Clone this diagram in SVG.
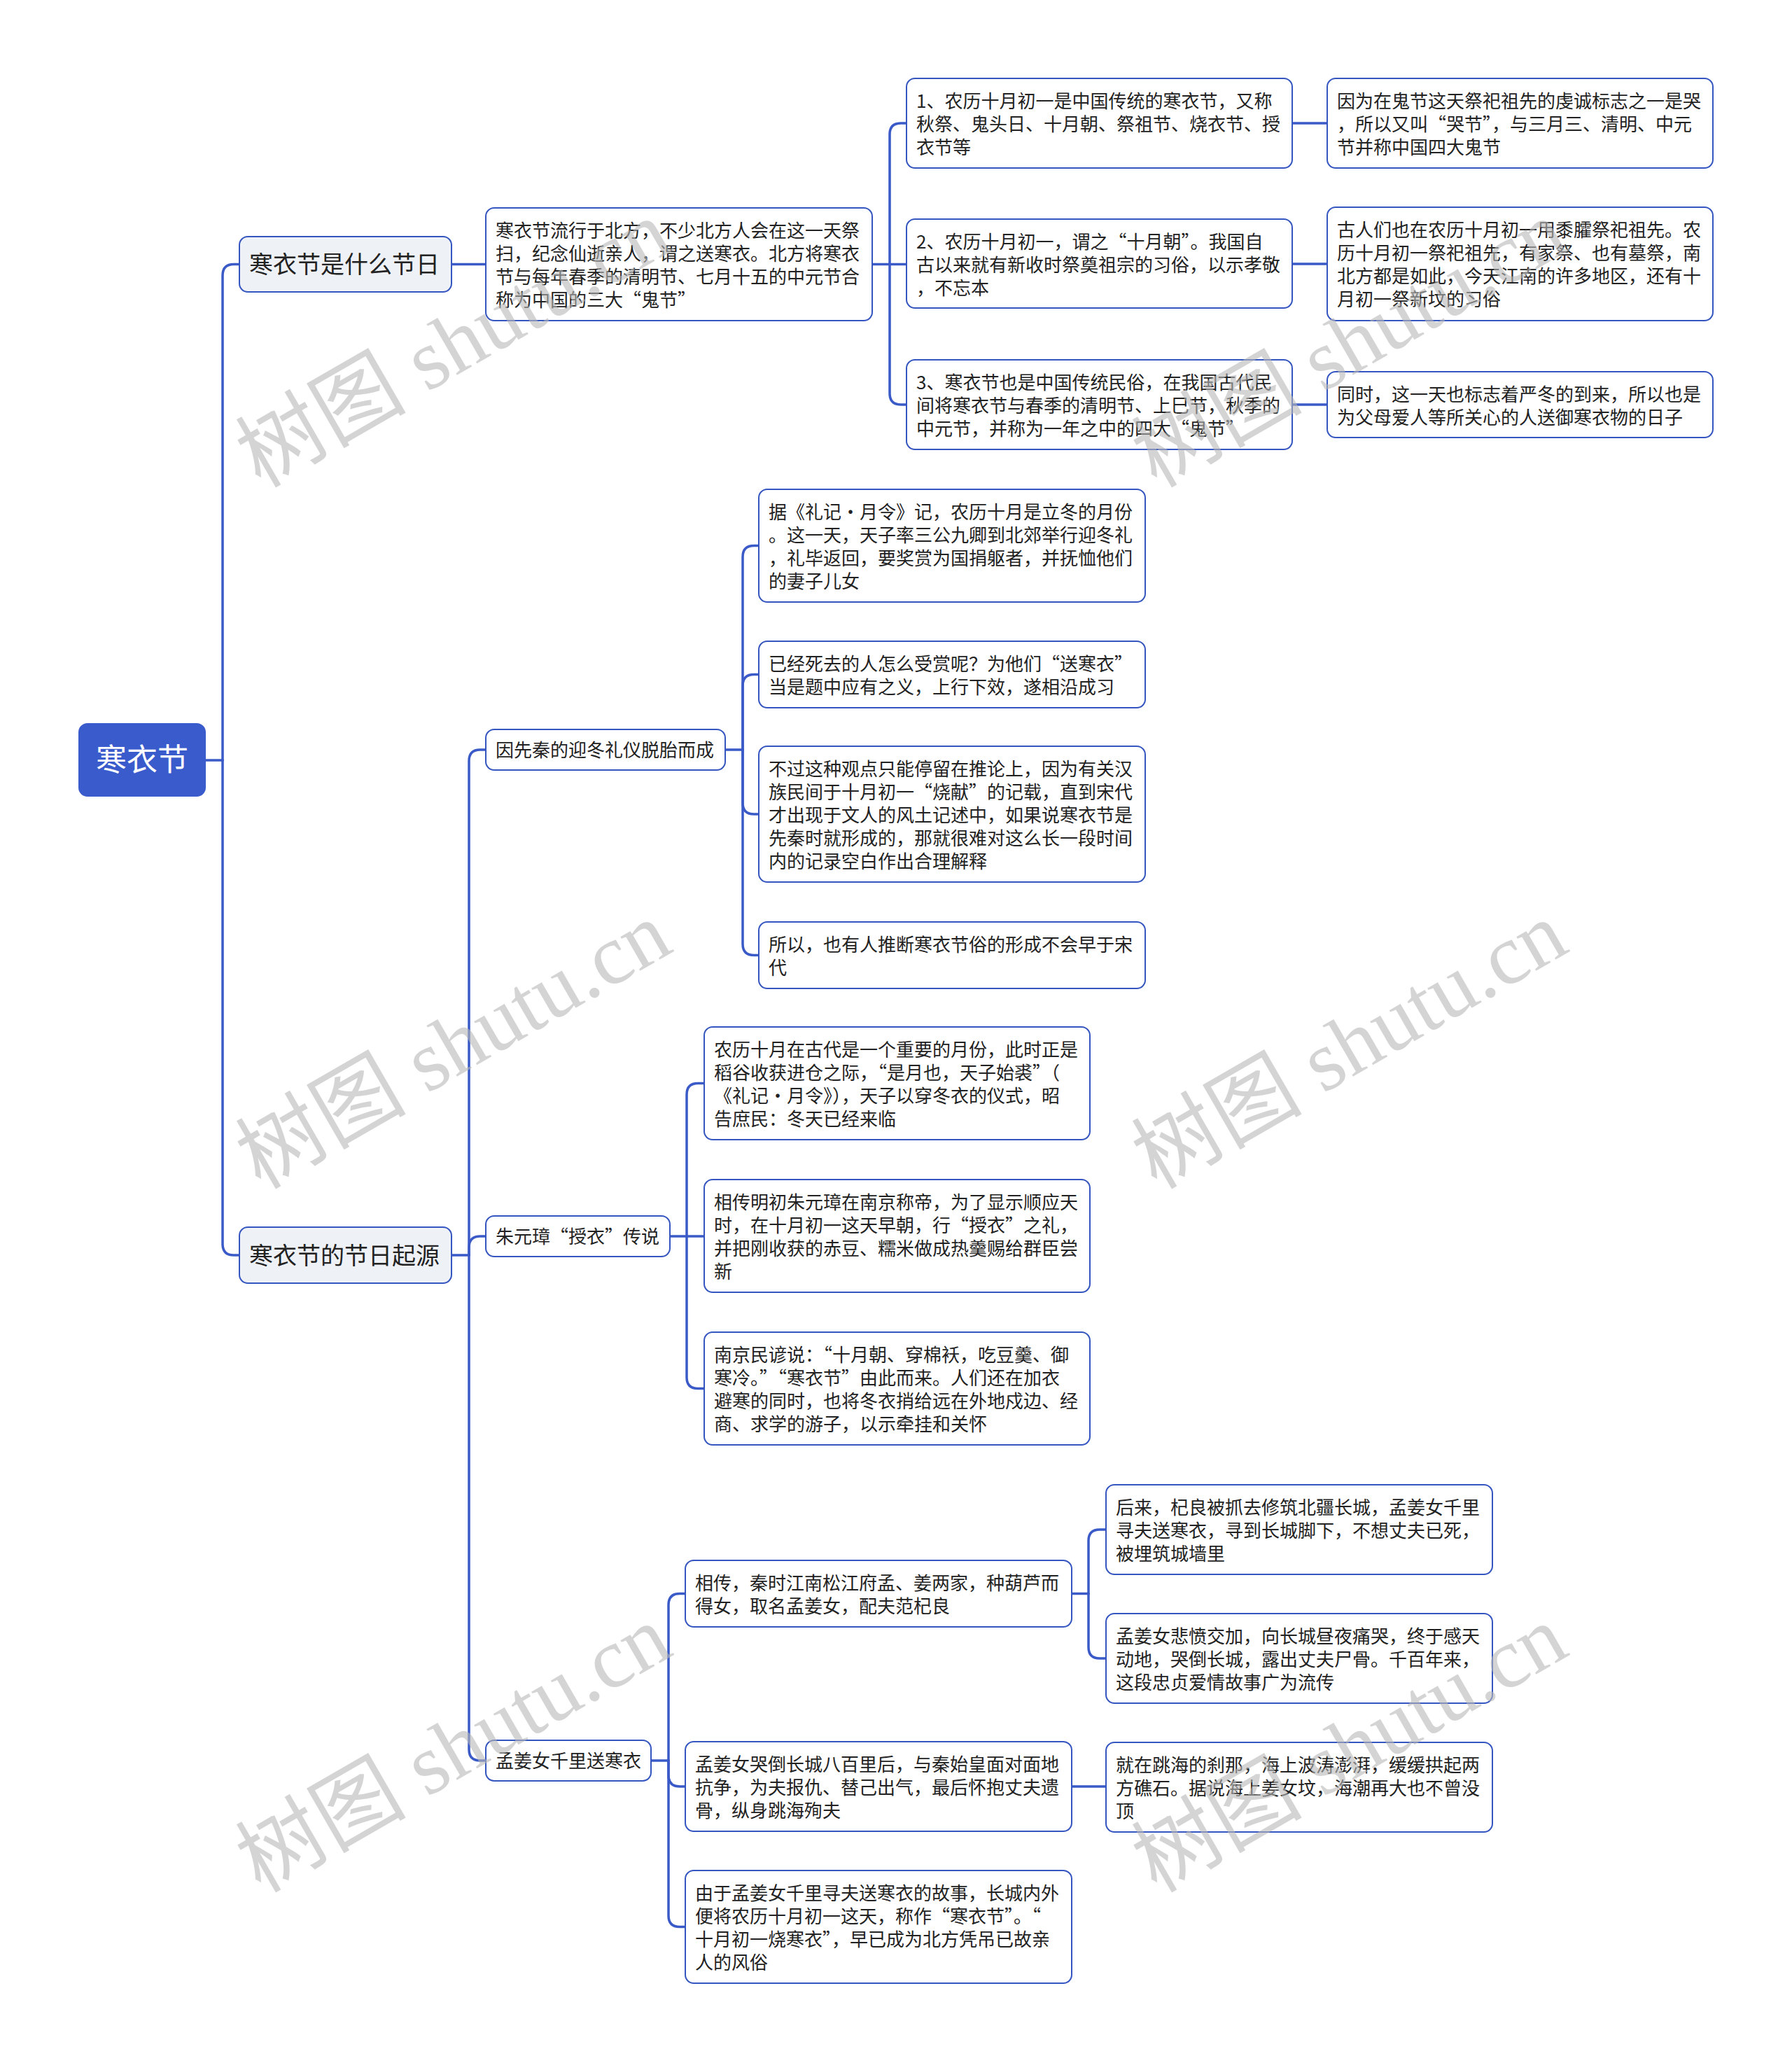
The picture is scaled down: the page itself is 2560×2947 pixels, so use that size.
<svg xmlns="http://www.w3.org/2000/svg" width="2560" height="2947" viewBox="0 0 2560 2947">
<style>
.bg{fill:#ffffff}
.nd rect{fill:#ffffff;stroke:#3556c0;stroke-width:2}
.l1 rect{fill:#eef1f6}
.rt rect{fill:#3a5bcc;stroke:#3a5bcc}
.t{font-family:"Noto Sans CJK SC","Noto Sans",sans-serif;font-size:26px;fill:#222222}
.t1{font-family:"Noto Sans CJK SC","Noto Sans",sans-serif;font-size:34px;fill:#222222}
.tr{font-family:"Noto Sans CJK SC","Noto Sans",sans-serif;font-size:44px;fill:#ffffff}
.cn path{fill:none;stroke:#3a5ac8;stroke-width:3.5;stroke-linecap:round}
.wm{font-family:"Liberation Serif","Noto Sans CJK SC",serif;font-size:122px;fill:#b8b8b8;fill-opacity:0.6}
</style>
<rect class="bg" x="0" y="0" width="2560" height="2947"/>
<g id="connectors" class="cn">
<path d="M293 1086 H318"/>
<path d="M318 1086 V393.5 Q318 377.5 334 377.5 H342"/>
<path d="M318 1086 V1777 Q318 1793 334 1793 H342"/>
<path d="M645 377.5 H694"/>
<path d="M1246 377.5 H1271"/>
<path d="M1271 377.5 V192 Q1271 176 1287 176 H1295"/>
<path d="M1271 377.5 H1295"/>
<path d="M1271 377.5 V562 Q1271 578 1287 578 H1295"/>
<path d="M1846 176 H1896"/>
<path d="M1846 377 H1896"/>
<path d="M1846 578 H1896"/>
<path d="M645 1793 H670"/>
<path d="M670 1793 V1087 Q670 1071 686 1071 H694"/>
<path d="M670 1793 V1782 Q670 1766 686 1766 H694"/>
<path d="M670 1793 V2499 Q670 2515 686 2515 H694"/>
<path d="M1036 1071 H1061"/>
<path d="M1061 1071 V795.5 Q1061 779.5 1077 779.5 H1084"/>
<path d="M1061 1071 V979.5 Q1061 963.5 1077 963.5 H1084"/>
<path d="M1061 1071 V1147 Q1061 1163 1077 1163 H1084"/>
<path d="M1061 1071 V1348.5 Q1061 1364.5 1077 1364.5 H1084"/>
<path d="M957 1766 H981"/>
<path d="M981 1766 V1563.5 Q981 1547.5 997 1547.5 H1006"/>
<path d="M981 1766 H1006"/>
<path d="M981 1766 V1967.5 Q981 1983.5 997 1983.5 H1006"/>
<path d="M930 2515 H955"/>
<path d="M955 2515 V2292.5 Q955 2276.5 971 2276.5 H979"/>
<path d="M955 2515 V2536 Q955 2552 971 2552 H979"/>
<path d="M955 2515 V2736.5 Q955 2752.5 971 2752.5 H979"/>
<path d="M1531 2276.5 H1555"/>
<path d="M1555 2276.5 V2201 Q1555 2185 1571 2185 H1580"/>
<path d="M1555 2276.5 V2353 Q1555 2369 1571 2369 H1580"/>
<path d="M1531 2552 H1580"/>
</g>
<g id="root" class="nd rt"><rect x="113" y="1034" width="180" height="103" rx="12"/><text class="tr" x="203" y="1101" text-anchor="middle">寒衣节</text></g>
<g id="nA" class="nd l1"><rect x="342" y="338" width="303" height="79" rx="12"/><text class="t1" x="356" y="390">寒衣节是什么节日</text></g>
<g id="nB" class="nd l1"><rect x="342" y="1753" width="303" height="80" rx="12"/><text class="t1" x="356" y="1806">寒衣节的节日起源</text></g>
<g id="nA1" class="nd"><rect x="694" y="297" width="552" height="161" rx="12"/><text class="t"><tspan x="708" y="339">寒衣节流行于北方，不少北方人会在这一天祭</tspan><tspan x="708" y="372">扫，纪念仙逝亲人，谓之送寒衣。北方将寒衣</tspan><tspan x="708" y="405">节与每年春季的清明节、七月十五的中元节合</tspan><tspan x="708" y="438">称为中国的三大“鬼节”</tspan></text></g>
<g id="nA1a" class="nd"><rect x="1295" y="112" width="551" height="128" rx="12"/><text class="t"><tspan x="1309" y="154">1、农历十月初一是中国传统的寒衣节，又称</tspan><tspan x="1309" y="187">秋祭、鬼头日、十月朝、祭祖节、烧衣节、授</tspan><tspan x="1309" y="220">衣节等</tspan></text></g>
<g id="nA1b" class="nd"><rect x="1295" y="313" width="551" height="127" rx="12"/><text class="t"><tspan x="1309" y="355">2、农历十月初一，谓之“十月朝”。我国自</tspan><tspan x="1309" y="388">古以来就有新收时祭奠祖宗的习俗，以示孝敬</tspan><tspan x="1309" y="421">，不忘本</tspan></text></g>
<g id="nA1c" class="nd"><rect x="1295" y="514" width="551" height="128" rx="12"/><text class="t"><tspan x="1309" y="556">3、寒衣节也是中国传统民俗，在我国古代民</tspan><tspan x="1309" y="589">间将寒衣节与春季的清明节、上巳节，秋季的</tspan><tspan x="1309" y="622">中元节，并称为一年之中的四大“鬼节”</tspan></text></g>
<g id="nA1a2" class="nd"><rect x="1896" y="112" width="551" height="128" rx="12"/><text class="t"><tspan x="1910" y="154">因为在鬼节这天祭祀祖先的虔诚标志之一是哭</tspan><tspan x="1910" y="187">，所以又叫“哭节”，与三月三、清明、中元</tspan><tspan x="1910" y="220">节并称中国四大鬼节</tspan></text></g>
<g id="nA1b2" class="nd"><rect x="1896" y="296" width="551" height="162" rx="12"/><text class="t"><tspan x="1910" y="338">古人们也在农历十月初一用黍臛祭祀祖先。农</tspan><tspan x="1910" y="371">历十月初一祭祀祖先，有家祭、也有墓祭，南</tspan><tspan x="1910" y="404">北方都是如此，今天江南的许多地区，还有十</tspan><tspan x="1910" y="437">月初一祭新坟的习俗</tspan></text></g>
<g id="nA1c2" class="nd"><rect x="1896" y="531" width="551" height="94" rx="12"/><text class="t"><tspan x="1910" y="573">同时，这一天也标志着严冬的到来，所以也是</tspan><tspan x="1910" y="606">为父母爱人等所关心的人送御寒衣物的日子</tspan></text></g>
<g id="nB1" class="nd"><rect x="694" y="1042" width="342" height="58" rx="12"/><text class="t" x="708" y="1081">因先秦的迎冬礼仪脱胎而成</text></g>
<g id="nB2" class="nd"><rect x="694" y="1737" width="263" height="58" rx="12"/><text class="t" x="708" y="1776">朱元璋“授衣”传说</text></g>
<g id="nB3" class="nd"><rect x="694" y="2486" width="236" height="58" rx="12"/><text class="t" x="708" y="2525">孟姜女千里送寒衣</text></g>
<g id="nB1a" class="nd"><rect x="1084" y="699" width="552" height="161" rx="12"/><text class="t"><tspan x="1098" y="741">据《礼记·月令》记，农历十月是立冬的月份</tspan><tspan x="1098" y="774">。这一天，天子率三公九卿到北郊举行迎冬礼</tspan><tspan x="1098" y="807">，礼毕返回，要奖赏为国捐躯者，并抚恤他们</tspan><tspan x="1098" y="840">的妻子儿女</tspan></text></g>
<g id="nB1b" class="nd"><rect x="1084" y="916" width="552" height="95" rx="12"/><text class="t"><tspan x="1098" y="958">已经死去的人怎么受赏呢？为他们“送寒衣”</tspan><tspan x="1098" y="991">当是题中应有之义，上行下效，遂相沿成习</tspan></text></g>
<g id="nB1c" class="nd"><rect x="1084" y="1066" width="552" height="194" rx="12"/><text class="t"><tspan x="1098" y="1108">不过这种观点只能停留在推论上，因为有关汉</tspan><tspan x="1098" y="1141">族民间于十月初一“烧献”的记载，直到宋代</tspan><tspan x="1098" y="1174">才出现于文人的风土记述中，如果说寒衣节是</tspan><tspan x="1098" y="1207">先秦时就形成的，那就很难对这么长一段时间</tspan><tspan x="1098" y="1240">内的记录空白作出合理解释</tspan></text></g>
<g id="nB1d" class="nd"><rect x="1084" y="1317" width="552" height="95" rx="12"/><text class="t"><tspan x="1098" y="1359">所以，也有人推断寒衣节俗的形成不会早于宋</tspan><tspan x="1098" y="1392">代</tspan></text></g>
<g id="nB2a" class="nd"><rect x="1006" y="1467" width="551" height="161" rx="12"/><text class="t"><tspan x="1020" y="1509">农历十月在古代是一个重要的月份，此时正是</tspan><tspan x="1020" y="1542">稻谷收获进仓之际，“是月也，天子始裘”（</tspan><tspan x="1020" y="1575">《礼记·月令》），天子以穿冬衣的仪式，昭</tspan><tspan x="1020" y="1608">告庶民：冬天已经来临</tspan></text></g>
<g id="nB2b" class="nd"><rect x="1006" y="1685" width="551" height="161" rx="12"/><text class="t"><tspan x="1020" y="1727">相传明初朱元璋在南京称帝，为了显示顺应天</tspan><tspan x="1020" y="1760">时，在十月初一这天早朝，行“授衣”之礼，</tspan><tspan x="1020" y="1793">并把刚收获的赤豆、糯米做成热羹赐给群臣尝</tspan><tspan x="1020" y="1826">新</tspan></text></g>
<g id="nB2c" class="nd"><rect x="1006" y="1903" width="551" height="161" rx="12"/><text class="t"><tspan x="1020" y="1945">南京民谚说：“十月朝、穿棉袄，吃豆羹、御</tspan><tspan x="1020" y="1978">寒冷。”“寒衣节”由此而来。人们还在加衣</tspan><tspan x="1020" y="2011">避寒的同时，也将冬衣捎给远在外地戍边、经</tspan><tspan x="1020" y="2044">商、求学的游子，以示牵挂和关怀</tspan></text></g>
<g id="nB3a" class="nd"><rect x="979" y="2229" width="552" height="95" rx="12"/><text class="t"><tspan x="993" y="2271">相传，秦时江南松江府孟、姜两家，种葫芦而</tspan><tspan x="993" y="2304">得女，取名孟姜女，配夫范杞良</tspan></text></g>
<g id="nB3b" class="nd"><rect x="979" y="2488" width="552" height="128" rx="12"/><text class="t"><tspan x="993" y="2530">孟姜女哭倒长城八百里后，与秦始皇面对面地</tspan><tspan x="993" y="2563">抗争，为夫报仇、替己出气，最后怀抱丈夫遗</tspan><tspan x="993" y="2596">骨，纵身跳海殉夫</tspan></text></g>
<g id="nB3c" class="nd"><rect x="979" y="2672" width="552" height="161" rx="12"/><text class="t"><tspan x="993" y="2714">由于孟姜女千里寻夫送寒衣的故事，长城内外</tspan><tspan x="993" y="2747">便将农历十月初一这天，称作“寒衣节”。“</tspan><tspan x="993" y="2780">十月初一烧寒衣”，早已成为北方凭吊已故亲</tspan><tspan x="993" y="2813">人的风俗</tspan></text></g>
<g id="nB3a1" class="nd"><rect x="1580" y="2121" width="552" height="128" rx="12"/><text class="t"><tspan x="1594" y="2163">后来，杞良被抓去修筑北疆长城，孟姜女千里</tspan><tspan x="1594" y="2196">寻夫送寒衣，寻到长城脚下，不想丈夫已死，</tspan><tspan x="1594" y="2229">被埋筑城墙里</tspan></text></g>
<g id="nB3a2" class="nd"><rect x="1580" y="2305" width="552" height="128" rx="12"/><text class="t"><tspan x="1594" y="2347">孟姜女悲愤交加，向长城昼夜痛哭，终于感天</tspan><tspan x="1594" y="2380">动地，哭倒长城，露出丈夫尸骨。千百年来，</tspan><tspan x="1594" y="2413">这段忠贞爱情故事广为流传</tspan></text></g>
<g id="nB3b1" class="nd"><rect x="1580" y="2489" width="552" height="128" rx="12"/><text class="t"><tspan x="1594" y="2531">就在跳海的刹那，海上波涛澎湃，缓缓拱起两</tspan><tspan x="1594" y="2564">方礁石。据说海上姜女坟，海潮再大也不曾没</tspan><tspan x="1594" y="2597">顶</tspan></text></g>
<g id="watermarks">
<text class="wm" x="372" y="698" transform="rotate(-30 372 698)">树图 shutu.cn</text>
<text class="wm" x="1652" y="698" transform="rotate(-30 1652 698)">树图 shutu.cn</text>
<text class="wm" x="372" y="1700" transform="rotate(-30 372 1700)">树图 shutu.cn</text>
<text class="wm" x="1652" y="1700" transform="rotate(-30 1652 1700)">树图 shutu.cn</text>
<text class="wm" x="372" y="2705" transform="rotate(-30 372 2705)">树图 shutu.cn</text>
<text class="wm" x="1652" y="2705" transform="rotate(-30 1652 2705)">树图 shutu.cn</text>
</g>
</svg>
